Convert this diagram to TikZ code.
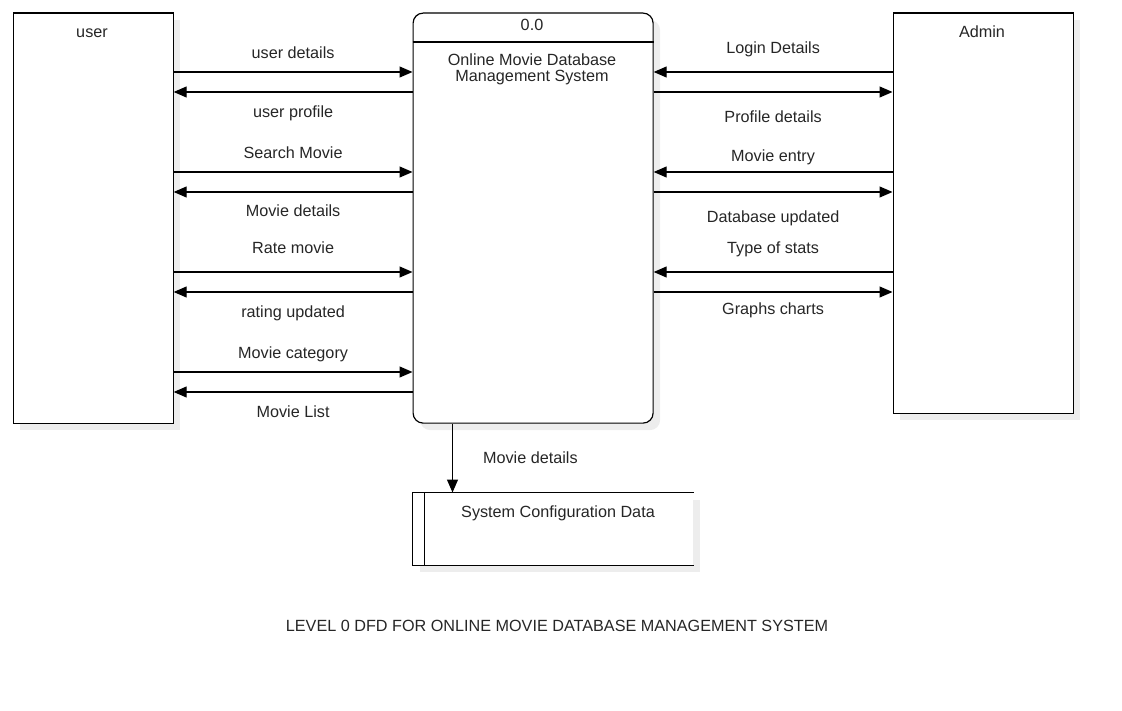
\documentclass[tikz,border=0pt]{standalone}
\usepackage{fontspec}
\setmainfont{Liberation Sans}
\usetikzlibrary{arrows.meta,shadows}

\begin{document}
\begin{tikzpicture}[x=1pt,y=-1pt,
        font=\fontsize{16.2}{16}\selectfont, text=black!85,
        box/.style={draw, line width=1.2pt, fill=white, inner sep=0pt, anchor=north west,
            drop shadow={shadow xshift=7pt,shadow yshift=-7pt,fill=black!7,opacity=1}},
        lbl/.style={inner sep=0pt, text height=11.5pt, text depth=3.5pt, yshift=-2.5pt},
        flow/.style={line width=1.2pt, -{Triangle[length=13pt,width=11pt]}}]
    \useasboundingbox (0,0) rectangle (1122,711);

    \node[box, minimum width=160pt, minimum height=410pt] (user) at (12.5,12.5) {};
    \node[box, minimum width=240pt, minimum height=410pt, rounded corners=10pt] (proc) at (412.5,12.5) {};
    \node[box, minimum width=180pt, minimum height=400pt] (admin) at (892.5,12.5) {};
    \node[box, draw=none, minimum width=280pt, minimum height=72pt] (store) at (412.5,492.5) {};

    \node[lbl] (userlbl)  at (92,31)  {user};
    \node[lbl] (adminlbl) at (982,31) {Admin};
    \node[lbl] (procid)   at (532,24) {0.0};
    \node[inner sep=0pt, align=center] (procname) at (532,69.5) {Online Movie Database\\Management System};
    \node[lbl] (storelbl) at (558,511) {System Configuration Data};
    \node[lbl] (title)    at (557,625) {LEVEL 0 DFD FOR ONLINE MOVIE DATABASE MANAGEMENT SYSTEM};

    \draw[line width=1.2pt] (proc.west |- 0,42) -- (proc.east |- 0,42);
    \draw[line width=1.2pt] (store.north east) -- (store.north west) -- (store.south west) -- (store.south east);
    \draw[line width=1.2pt] ([xshift=12pt]store.north west) -- ([xshift=12pt]store.south west);

    % user <-> system
    \draw[flow] (user.east |- 0,72)  -- node[lbl, above=11.8pt] {user details}   (proc.west |- 0,72);
    \draw[flow] (proc.west |- 0,92)  -- node[lbl, below=10.9pt] {user profile}   (user.east |- 0,92);
    \draw[flow] (user.east |- 0,172) -- node[lbl, above=12pt]   {Search Movie}   (proc.west |- 0,172);
    \draw[flow] (proc.west |- 0,192) -- node[lbl, below=10.2pt] {Movie details}  (user.east |- 0,192);
    \draw[flow] (user.east |- 0,272) -- node[lbl, above=16.5pt] {Rate movie}     (proc.west |- 0,272);
    \draw[flow] (proc.west |- 0,292) -- node[lbl, below=11pt]   {rating updated} (user.east |- 0,292);
    \draw[flow] (user.east |- 0,372) -- node[lbl, above=12pt]   {Movie category} (proc.west |- 0,372);
    \draw[flow] (proc.west |- 0,392) -- node[lbl, below=11pt]   {Movie List}     (user.east |- 0,392);

    % admin <-> system
    \draw[flow] (admin.west |- 0,72)  -- node[lbl, above=17pt]   {Login Details}    (proc.east |- 0,72);
    \draw[flow] (proc.east |- 0,92)   -- node[lbl, below=15.5pt] {Profile details}  (admin.west |- 0,92);
    \draw[flow] (admin.west |- 0,172) -- node[lbl, above=8.5pt]  {Movie entry}      (proc.east |- 0,172);
    \draw[flow] (proc.east |- 0,192)  -- node[lbl, below=15.5pt] {Database updated} (admin.west |- 0,192);
    \draw[flow] (admin.west |- 0,272) -- node[lbl, above=17pt]   {Type of stats}    (proc.east |- 0,272);
    \draw[flow] (proc.east |- 0,292)  -- node[lbl, below=7.5pt]  {Graphs charts}    (admin.west |- 0,292);

    % system -> store
    \draw[flow] (proc.south -| 452.5,0) -- node[lbl, right=30pt, yshift=1.5pt] {Movie details} (store.north -| 452.5,0);
\end{tikzpicture}
\end{document}
